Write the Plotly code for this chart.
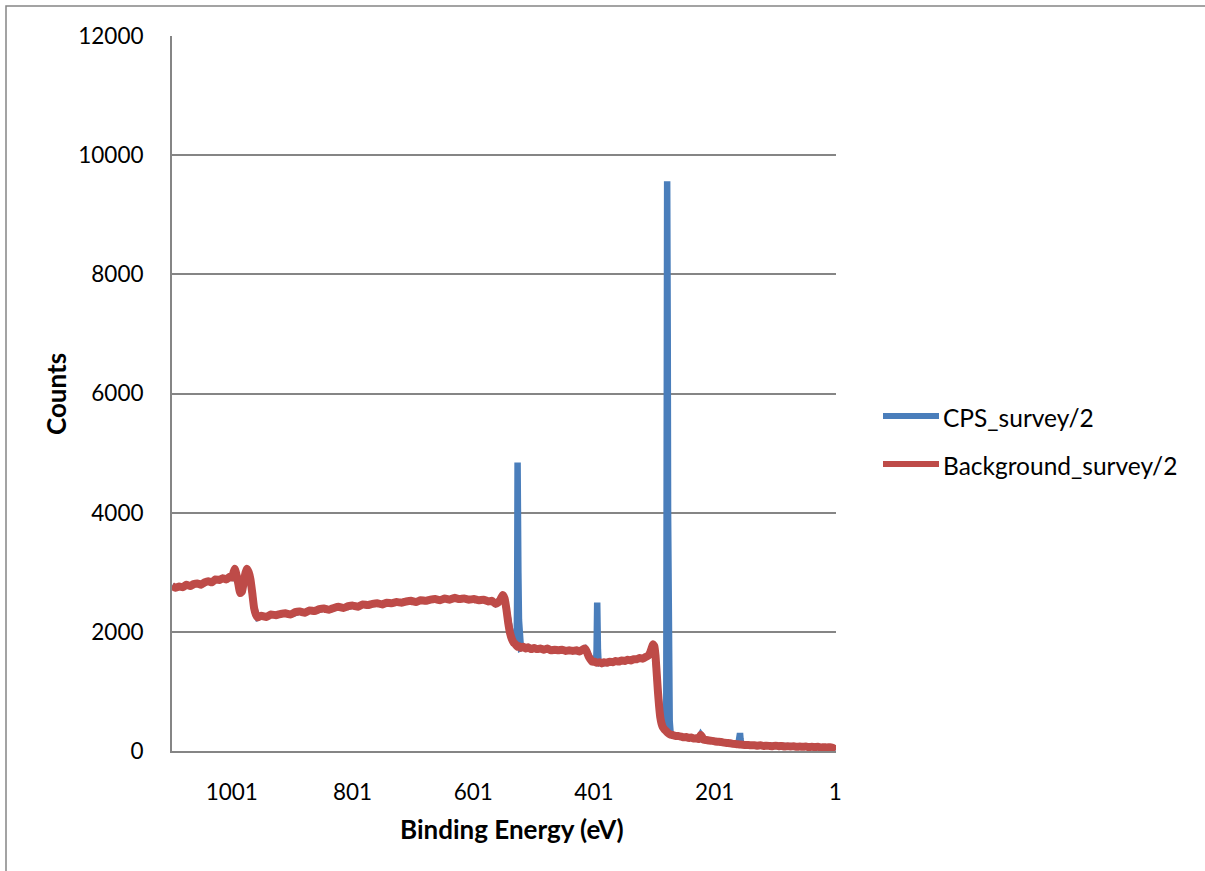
import plotly.graph_objects as go

# XPS survey spectrum: measured counts and fitted background (binding energy in eV)
be_bg = [1100, 1094, 1088, 1082, 1076, 1070, 1064, 1058, 1052, 1046, 1040, 1034, 1028, 1022, 1016, 1010,
         1005, 1001, 998, 996, 993, 990, 987, 984, 981, 978, 976, 973, 970, 967, 964, 961, 958,
         952, 944, 936, 928, 920, 912, 904, 896, 888, 880, 872, 864, 856, 848, 840, 832, 824, 816,
         808, 800, 792, 784, 776, 768, 760, 752, 744, 736, 728, 720, 712, 704, 696, 688, 680, 672,
         664, 656, 648, 640, 632, 624, 616, 608, 600, 592, 584, 576, 570, 564, 560, 556, 552, 549,
         546, 543, 540, 537, 534, 531, 528, 525, 522, 518, 514, 510, 505, 500, 495, 490, 484, 478,
         472, 466, 460, 454, 448, 442, 436, 430, 425, 420, 416, 413, 410, 407, 404, 400, 396, 392,
         388, 384, 380, 375, 370, 365, 360, 355, 350, 345, 340, 335, 330, 325, 320, 315, 311, 308,
         305, 303, 301, 299, 297, 295, 293, 291, 289, 287, 284, 281, 278, 275, 272, 268, 264, 260,
         256, 252, 248, 244, 240, 236, 232, 228, 226, 224, 222, 220, 215, 210, 205, 200, 195, 190,
         185, 180, 175, 170, 165, 160, 155, 150, 145, 140, 135, 130, 125, 120, 115, 110, 105, 100,
         95, 90, 85, 80, 75, 70, 65, 60, 55, 50, 45, 40, 35, 30, 25, 20, 15, 10, 6, 3, 0]
bg = [2770, 2740, 2760, 2750, 2790, 2770, 2800, 2810, 2790, 2830, 2850, 2830, 2880, 2870, 2900, 2880,
      2920, 2910, 3000, 3060, 2950, 2800, 2650, 2680, 2850, 3000, 3060, 3000, 2880, 2650, 2400, 2290, 2240,
      2270, 2250, 2290, 2280, 2300, 2310, 2290, 2330, 2340, 2320, 2360, 2350, 2380, 2390, 2370, 2400, 2420, 2400,
      2430, 2440, 2420, 2460, 2450, 2470, 2480, 2460, 2490, 2480, 2500, 2490, 2510, 2520, 2500, 2530, 2520, 2540,
      2550, 2530, 2560, 2540, 2570, 2550, 2560, 2540, 2550, 2530, 2540, 2510, 2520, 2470, 2490, 2540, 2620, 2560,
      2380, 2150, 1980, 1880, 1820, 1790, 1750, 1760, 1730, 1750, 1720, 1740, 1710, 1730, 1710, 1720, 1700, 1720,
      1690, 1700, 1690, 1700, 1680, 1690, 1680, 1690, 1670, 1700, 1720, 1670, 1590, 1540, 1500, 1500, 1480, 1490,
      1470, 1490, 1480, 1500, 1490, 1510, 1500, 1520, 1510, 1530, 1520, 1540, 1540, 1560, 1550, 1580, 1600, 1650,
      1740, 1790, 1760, 1600, 1300, 1000, 750, 560, 460, 400, 360, 330, 300, 280, 270, 260, 250, 250,
      240, 230, 235, 220, 225, 210, 215, 200, 230, 270, 240, 190, 185, 175, 170, 160, 155, 150,
      140, 135, 130, 120, 115, 110, 105, 100, 100, 95, 95, 90, 95, 85, 90, 85, 80, 90,
      80, 85, 75, 80, 75, 80, 70, 75, 70, 75, 65, 70, 65, 70, 60, 65, 60, 65, 55, 40, 25]

# Photoelectron peaks that rise above the background in the measured counts
o1s_be = [529.0, 528.2, 527.8, 527.5, 527.0, 526.2, 525.2, 524.0, 522.5]
o1s_cps = [1800, 2600, 4200, 4840, 4300, 3000, 2200, 1900, 1760]
n1s_be = [397.5, 396.6, 396.0, 395.6, 395.1, 394.4, 393.5]
n1s_cps = [1490, 1700, 2400, 2490, 2200, 1700, 1520]
c1s_be = [282.5, 281.2, 280.5, 280.0, 279.7, 279.3, 278.8, 278.2, 277.5, 276.5, 275.5, 274.2, 272.5]
c1s_cps = [360, 700, 3000, 8000, 9560, 9200, 7000, 4000, 2000, 900, 500, 330, 280]
minor_be = [162.5, 160.8, 159.8, 159.0, 158.2, 157.0, 155.5]
minor_cps = [110, 180, 290, 300, 200, 120, 105]

x_tickvals = [1001, 801, 601, 401, 201, 1]
y_tickvals = [0, 2000, 4000, 6000, 8000, 10000, 12000]

# Measured series: background points outside the peak windows plus the peak points
peaks = [(o1s_be, o1s_cps), (n1s_be, n1s_cps), (c1s_be, c1s_cps), (minor_be, minor_cps)]
windows = [(min(b), max(b)) for b, _ in peaks]
pts = [(e, v) for e, v in zip(be_bg, bg) if not any(lo <= e <= hi for lo, hi in windows)]
for b, c in peaks:
    pts.extend(zip(b, c))
pts.sort(key=lambda p: -p[0])
be_cps = [p[0] for p in pts]
cps = [p[1] for p in pts]

BLUE = "#4A7EBB"
RED = "#BE4B48"
GRID = "#858585"
FONT = "Lato"

fig = go.Figure()
fig.add_trace(go.Scatter(x=be_cps, y=cps, mode="lines", name="CPS_survey/2",
                         line=dict(color=BLUE, width=6.5, shape="linear"), showlegend=False))
fig.add_trace(go.Scatter(x=be_bg, y=bg, mode="lines", name="Background_survey/2",
                         line=dict(color=RED, width=8, shape="spline", smoothing=0.4),
                         showlegend=False))

L, R, T, B = 172, 836, 36, 751
W, H = 1205, 871
pw, ph = R - L, B - T


def px(xp):
    return (xp - L) / pw


def py(yp):
    return (B - yp) / ph


fig.update_layout(
    width=W, height=H,
    margin=dict(l=L, r=W - R, t=T, b=H - B, pad=0),
    paper_bgcolor="white", plot_bgcolor="white",
    font=dict(family=FONT, size=22.5, color="black"),
    xaxis=dict(range=[1100, 0], tickvals=x_tickvals, ticktext=[str(v) for v in x_tickvals],
               showgrid=False, zeroline=False, showline=True, linecolor=GRID, linewidth=2,
               ticks="", ticklabelstandoff=20, tickfont=dict(size=22.5)),
    yaxis=dict(range=[0, 12000], tickvals=y_tickvals, ticktext=[str(v) for v in y_tickvals],
               showgrid=True, gridcolor=GRID, gridwidth=1.6,
               zeroline=False, showline=True, linecolor=GRID, linewidth=2,
               ticks="", ticklabelstandoff=22, tickfont=dict(size=22.5)),
)

# Chart-area border
fig.add_shape(type="rect", xref="paper", yref="paper",
              x0=px(6), x1=px(W + 10), y0=py(H + 10), y1=py(6),
              line=dict(color=GRID, width=1.5), fillcolor="rgba(0,0,0,0)", layer="below")

# Axis titles
fig.add_annotation(text="<b>Binding Energy (eV)</b>", xref="paper", yref="paper",
                   x=px(512), y=py(829), showarrow=False, xanchor="center", yanchor="middle",
                   font=dict(family=FONT, size=26))
fig.add_annotation(text="<b>Counts</b>", xref="paper", yref="paper", textangle=-90,
                   x=px(56), y=py(394), showarrow=False, xanchor="center", yanchor="middle",
                   font=dict(family=FONT, size=26))

# Legend
legend_items = [("CPS_survey/2", BLUE, 416), ("Background_survey/2", RED, 464)]
for label, color, yp in legend_items:
    fig.add_shape(type="line", xref="paper", yref="paper",
                  x0=px(883), x1=px(939), y0=py(yp), y1=py(yp),
                  line=dict(color=color, width=6))
    fig.add_annotation(text=label, xref="paper", yref="paper", x=px(941), y=py(yp + 1),
                       showarrow=False, xanchor="left", yanchor="middle",
                       font=dict(family=FONT, size=24.5))

fig.write_html("out.html")
